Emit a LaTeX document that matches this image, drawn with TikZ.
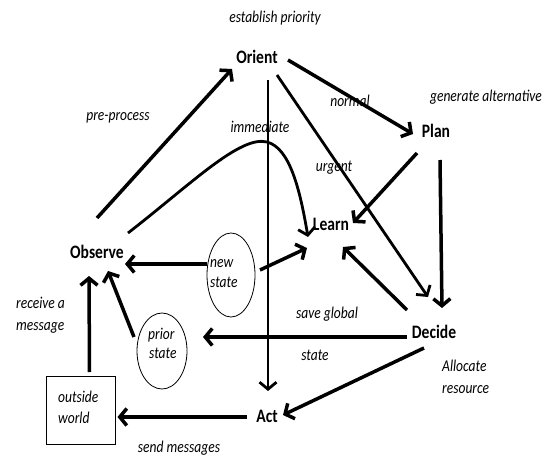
\documentclass[tikz,border=0pt]{standalone}
\usepackage{fontspec}
\setmainfont{Carlito}[FakeStretch=0.82]
\usetikzlibrary{arrows.meta,shapes.geometric}

\begin{document}
\begin{tikzpicture}[x=1pt,y=-1pt,
  phase/.style={font=\fontsize{19}{22}\selectfont\bfseries, inner sep=0pt},
  lbl/.style={font=\fontsize{16.5}{19}\selectfont\itshape, inner sep=0pt, anchor=base},
  lblw/.style={lbl, anchor=base west},
  arr/.style={line width=3.5pt, -{Straight Barb[length=7pt,width=17pt]}},
  thinarr/.style={arr, line width=2.8pt},
  bubble/.style={draw, ellipse, line width=0.8pt, inner sep=0pt}]
\useasboundingbox (0,0) rectangle (546,457);

% phases of the loop
\node[phase] (orient)  at (257,57)  {Orient};
\node[phase] (plan)    at (436,131) {Plan};
\node[phase] (learn)   at (331,224) {Learn};
\node[phase] (observe) at (97,252)  {Observe};
\node[phase] (decide)  at (434,332) {Decide};
\node[phase] (act)     at (267,416) {Act};

% state bubbles and the outside world
\node[bubble, minimum width=48, minimum height=84] (ns) at (231,275) {};
\node[bubble, minimum width=50, minimum height=76] (ps) at (162,351) {};
\node[draw, line width=1pt, minimum width=69, minimum height=68, inner sep=0pt] (world) at (80.5,410) {};

% edge labels
\node[lbl] (l1) at (275,23)  {establish priority};
\node[lbl] (l2) at (486,102) {generate alternative};
\node[lbl] (l3) at (350,107) {normal};
\node[lbl] (l4) at (118,121) {pre-process};
\node[lbl] (l5) at (260,133) {immediate};
\node[lbl] (l6) at (334,172) {urgent};
\node[lbl] (l7) at (327,318) {save global};
\node[lbl] (l8) at (315,360) {state};
\node[lblw] (l9)  at (442,371) {Allocate};
\node[lblw] (l10) at (442,393) {resource};
\node[lblw] (l11) at (16,308)  {receive a};
\node[lblw] (l12) at (16,330)  {message};
\node[lbl] (l13) at (179,452) {send messages};
\node[lblw] (l14) at (58,402)  {outside};
\node[lblw] (l15) at (58,423)  {world};
\node[lblw] (l16) at (210,267) {new};
\node[lblw] (l17) at (210,287) {state};
\node[lblw] (l18) at (148,339) {prior};
\node[lblw] (l19) at (149,358) {state};

% connectors
\draw[arr] ([shift={(0,-34)}]observe.center) -- ([shift={(-25,12)}]orient.center);
\draw[arr] ([shift={(31,3)}]orient.center) -- ([shift={(-23,3)}]plan.center);
\draw[thinarr] ([shift={(20,18)}]orient.center) -- ([shift={(-6,-35)}]decide.center);
\draw[thinarr] ([shift={(11,23)}]orient.center) -- ([shift={(1,-25)}]act.center);
\draw[arr] ([shift={(-19,22)}]plan.center) -- ([shift={(22,-1)}]learn.center);
\draw[arr] ([shift={(4,29)}]plan.center) -- ([shift={(8,-24)}]decide.center);
\draw[arr] ([shift={(-27,-22)}]decide.center) -- ([shift={(12,23)}]learn.center);
\draw[arr] ([shift={(29,-5)}]ns.center) -- ([shift={(-24,24)}]learn.center);
\draw[arr] ([shift={(-24,-11)}]ns.center) -- ([shift={(28,12)}]observe.center);
\draw[arr] ([shift={(-28,-14)}]ps.center) -- ([shift={(11,19)}]observe.center);
\draw[arr] ([shift={(-27,5)}]decide.center) -- ([shift={(41,-14)}]ps.center);
\draw[arr] ([shift={(9,-38)}]world.center) -- ([shift={(-8,24)}]observe.center);
\draw[arr] ([shift={(-10,16)}]decide.center) -- ([shift={(16,-1)}]act.center);
\draw[arr] ([shift={(-20,1)}]act.center) -- ([shift={(37,7)}]world.center);
\draw[thinarr] ([shift={(31,-19)}]observe.center)
  .. controls (190,185) and (240,135) .. (267,142)
  .. controls (290,148) and (300,190) .. ([shift={(-23,13)}]learn.center);
\end{tikzpicture}
\end{document}
